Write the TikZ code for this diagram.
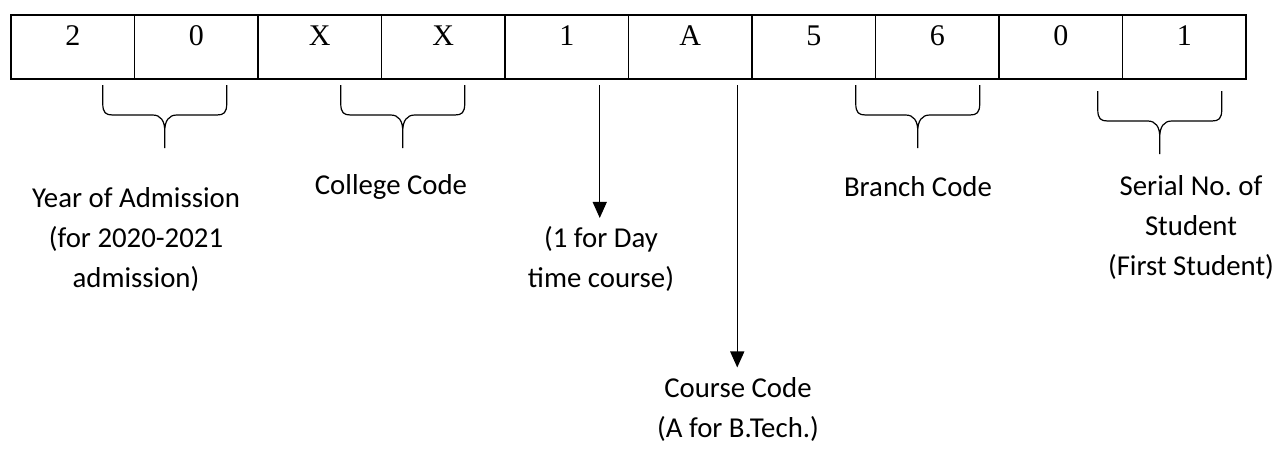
\documentclass[tikz,border=0pt]{standalone}
\usepackage{fontspec}
\setmainfont{Liberation Serif}
\newfontfamily\lblfont{Carlito}
\usetikzlibrary{arrows.meta,calc,positioning,chains}
\frenchspacing

\begin{document}
\begin{tikzpicture}[x=1pt, y=-1pt, >={Triangle[width=14pt,length=16pt]},
        node distance = 0pt,
          start chain = A going right,
    cell/.style = {draw, line width=1.4pt, minimum width=123.5pt, text height=30pt, text depth=34pt,
                   inner xsep=0pt, inner ysep=0pt, outer sep=0pt, font=\fontsize{30}{32}\selectfont, on chain=A},
    lbl/.style = {align=center, font=\lblfont\fontsize{28.8}{40}\selectfont},
    codebrace/.pic = {\draw[line width=1.2pt]
        (0,0) -- (0,18) .. controls (0,28) and (3,30) .. (10,30) -- (50,30) .. controls (58,30) and (62,36) .. (62,46) -- (62,63)
        (62,46) .. controls (62,36) and (66,30) .. (74,30) -- (114,30) .. controls (121,30) and (124,28) .. (124,18) -- (124,0);},
                            ]
    \useasboundingbox (0,0) rectangle (1279,448);
    % the code boxes
    \node[cell, anchor=north west] at (11,15) {2}; % A-1
    \foreach \d in {0,X,X,1,A,5,6,0,1}
      \node[cell] {\d};
    %
    \foreach \i/\dx/\dy in {1/30/6, 3/21/6, 7/42/6, 9/37/12}
      \pic at ($(A-\i.south)+(\dx,\dy)$) {codebrace};
    % labels
    \node[lbl] (year) at (136,239) {Year of Admission\\(for 2020-2021\\admission)};
    \node[lbl] (college) at (391,187) {College Code};
    \node[lbl] (day) at (601,259) {(1 for Day\\time course)};
    \node[lbl] (course) at (738,409) {Course Code\\(A for B.Tech.)};
    \node[lbl] (branch) at (918,187) {Branch Code};
    \node[lbl] (serial) at (1191,227) {Serial No. of\\Student\\(First Student)};
    %
    \draw[->, line width=1.4pt, shorten >=5pt] ($(A-5.south)+(33,6)$) coordinate (s1) -- (s1 |- day.north);
    \draw[->, line width=1.4pt, shorten >=6pt] ($(A-6.south)+(47,6)$) coordinate (s2) -- (s2 |- course.north);
\end{tikzpicture}
\end{document}
